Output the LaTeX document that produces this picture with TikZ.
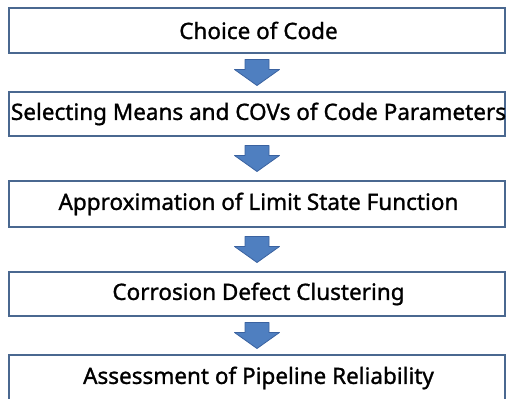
\documentclass[tikz,border=0pt]{standalone}
\usepackage{fontspec}
\setmainfont{Noto Sans}[FakeBold=1.2]
\usetikzlibrary{calc}
\definecolor{boxline}{HTML}{4A6890}
\definecolor{arrowfill}{HTML}{4F7FC0}
\definecolor{arrowline}{HTML}{3A62A0}
\tikzset{
  stepbox/.style={draw=boxline, line width=2.4pt, fill=white, minimum width=496pt, minimum height=45pt, inner sep=0pt, font=\fontsize{22.5}{26}\selectfont},
  downarrow/.pic={\filldraw[fill=arrowfill, draw=arrowline, line width=0.8pt, line join=round]
     (-12pt,13pt) -- (12pt,13pt) -- (12pt,3pt) -- (22.5pt,3pt) -- (0pt,-13pt) -- (-22.5pt,3pt) -- (-12pt,3pt) -- cycle;}
}
\begin{document}
\begin{tikzpicture}[x=1pt,y=-1pt]
\useasboundingbox (0,0) rectangle (507,399);
\node[stepbox] (b1) at (257,30.5) {\makebox[0pt]{\hspace{3pt}Choice of Code}};
\node[stepbox, minimum height=44pt] (b2) at (257,114) {\makebox[0pt]{\hspace{3pt}Selecting Means and COVs of Code Parameters}};
\node[stepbox, minimum height=46pt] (b3) at (257,204) {\makebox[0pt]{\hspace{3pt}Approximation of Limit State Function}};
\node[stepbox, minimum height=44pt] (b4) at (257,294) {\makebox[0pt]{\hspace{3pt}Corrosion Defect Clustering}};
\node[stepbox, minimum height=46pt] (b5) at (257,378) {\makebox[0pt]{\hspace{3pt}Assessment of Pipeline Reliability}};
\pic at ($(b1.south)!0.5!(b2.north)$) {downarrow};
\pic at ($(b2.south)!0.5!(b3.north)$) {downarrow};
\pic at ($(b3.south)!0.5!(b4.north)$) {downarrow};
\pic at ($(b4.south)!0.5!(b5.north)$) {downarrow};
\end{tikzpicture}
\end{document}
